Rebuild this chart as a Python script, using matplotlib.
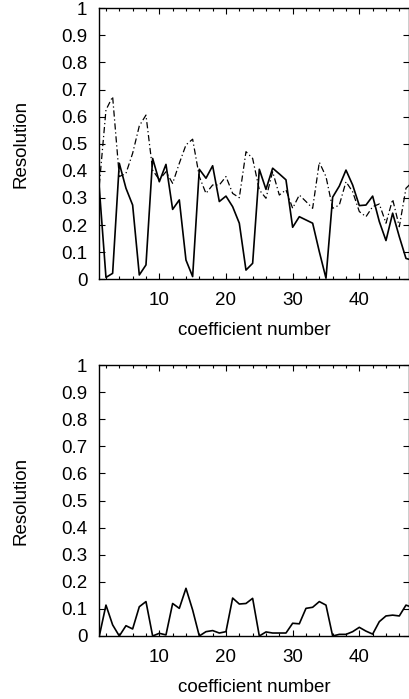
import numpy as np
import matplotlib
matplotlib.use("Agg")
import matplotlib.pyplot as plt
from matplotlib.ticker import MultipleLocator

plt.rcParams['font.family'] = ['Liberation Sans', 'DejaVu Sans']

coef = list(range(1, 49))

top_solid = [0.336, 0.007, 0.022, 0.428, 0.336, 0.274, 0.016, 0.053, 0.446, 0.360,
             0.424, 0.258, 0.293, 0.071, 0.010, 0.406, 0.373, 0.419, 0.287, 0.307,
             0.268, 0.207, 0.034, 0.059, 0.406, 0.332, 0.410, 0.389, 0.367, 0.192,
             0.231, 0.219, 0.207, 0.102, 0.004, 0.303, 0.344, 0.403, 0.348, 0.272,
             0.274, 0.307, 0.213, 0.143, 0.244, 0.157, 0.077, 0.070]

top_dashdot = [0.348, 0.625, 0.674, 0.379, 0.391, 0.465, 0.566, 0.606, 0.403, 0.367,
               0.397, 0.354, 0.428, 0.496, 0.517, 0.379, 0.317, 0.348, 0.348, 0.379,
               0.317, 0.301, 0.471, 0.446, 0.330, 0.299, 0.397, 0.311, 0.330, 0.262,
               0.311, 0.287, 0.262, 0.432, 0.379, 0.262, 0.274, 0.360, 0.323, 0.250,
               0.231, 0.268, 0.278, 0.207, 0.295, 0.194, 0.336, 0.360]

bottom_solid = [0.000, 0.114, 0.041, 0.000, 0.038, 0.026, 0.108, 0.127, 0.000, 0.010,
                0.004, 0.120, 0.102, 0.176, 0.096, 0.000, 0.016, 0.020, 0.011, 0.016,
                0.140, 0.118, 0.120, 0.139, 0.000, 0.015, 0.011, 0.011, 0.011, 0.047,
                0.045, 0.102, 0.106, 0.127, 0.114, 0.000, 0.006, 0.006, 0.016, 0.032,
                0.018, 0.007, 0.053, 0.074, 0.077, 0.074, 0.114, 0.105]

y_ticks = [0, 0.1, 0.2, 0.3, 0.4, 0.5, 0.6, 0.7, 0.8, 0.9, 1]
y_ticklabels = ['0', '0.1', '0.2', '0.3', '0.4', '0.5', '0.6', '0.7', '0.8', '0.9', '1']
x_ticks = [10, 20, 30, 40]

W, H = 409, 699
fig = plt.figure(figsize=(W / 100, H / 100), dpi=100)

def axes_px(left, top, right, bottom):
    return fig.add_axes([left / W, 1 - bottom / H, (right - left) / W, (bottom - top) / H])

ax1 = axes_px(99.3, 8.3, 409.5, 279.3)
ax2 = axes_px(99.3, 365.0, 409.5, 636.0)

dashdot = (0, (5, 2.2, 1, 2.2))

ax1.plot(coef, top_dashdot, color='black', lw=0.9, linestyle=dashdot)
ax1.plot(coef, top_solid, color='black', lw=1.2)
ax2.plot(coef, bottom_solid, color='black', lw=1.2)

fs = 13.5
for ax in (ax1, ax2):
    ax.set_xlim(1, 1 + (409.5 - 99.3) / 6.667)
    ax.set_ylim(0, 1)
    ax.set_yticks(y_ticks)
    ax.set_yticklabels(y_ticklabels)
    ax.set_xticks(x_ticks)
    ax.xaxis.set_minor_locator(MultipleLocator(2))
    ax.tick_params(axis='both', which='major', direction='in', top=True, right=True,
                   length=4, width=0.8, labelsize=fs, pad=8.5)
    ax.tick_params(axis='x', which='major', pad=9.5)
    ax.tick_params(axis='x', which='minor', direction='in', top=True, length=2.5, width=0.8)
    for s in ax.spines.values():
        s.set_linewidth(1.0)
    ax.set_xlabel('coefficient number', fontsize=fs, labelpad=9)
    ax.set_ylabel('Resolution', fontsize=fs, labelpad=22.5)

fig.savefig('out.png', dpi=100)
